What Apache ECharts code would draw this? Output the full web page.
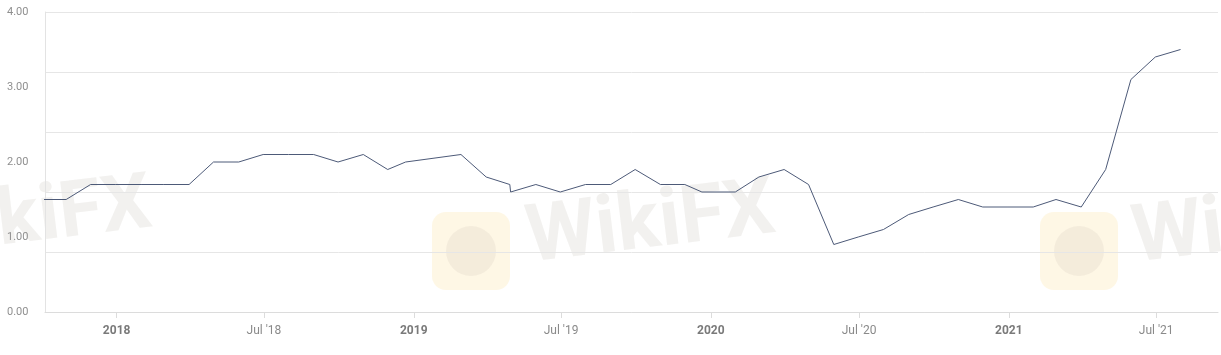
<!DOCTYPE html>
<html>
<head>
<meta charset="utf-8">
<script src="https://cdn.jsdelivr.net/npm/echarts@6/dist/echarts.min.js"></script>
<style>
html,body{margin:0;padding:0;background:#fff;}
#c{width:1221px;height:355px;}
</style>
</head>
<body>
<div id="c"></div>
<script>
// ---- data ----
var dates = [
  '2017-09-30','2017-10-31','2017-11-30','2017-12-31','2018-01-31','2018-02-28',
  '2018-03-31','2018-04-30','2018-05-31','2018-06-30','2018-07-31','2018-08-31',
  '2018-09-30','2018-10-31','2018-11-30','2018-12-22','2019-02-28','2019-03-31',
  '2019-04-29','2019-04-30','2019-05-31','2019-06-30','2019-07-31','2019-08-31',
  '2019-09-30','2019-10-31','2019-11-30','2019-12-21','2020-01-31','2020-02-29',
  '2020-03-31','2020-04-30','2020-05-31','2020-06-30','2020-07-31','2020-08-31',
  '2020-09-30','2020-10-31','2020-11-30','2020-12-31','2021-01-31','2021-02-28',
  '2021-03-31','2021-04-30','2021-05-31','2021-06-30','2021-07-31'
];
var values = [
  1.50, 1.50, 1.70, 1.70, 1.70, 1.70,
  1.70, 2.00, 2.00, 2.10, 2.10, 2.10,
  2.00, 2.10, 1.90, 2.00, 2.10, 1.80,
  1.70, 1.60, 1.70, 1.60, 1.70, 1.70,
  1.90, 1.70, 1.70, 1.60, 1.60, 1.80,
  1.90, 1.70, 0.90, 1.00, 1.10, 1.30,
  1.40, 1.50, 1.40, 1.40, 1.40, 1.50,
  1.40, 1.90, 3.10, 3.40, 3.50
];
var xTickDates = ['2018-01-01','2018-07-01','2019-01-01','2019-07-01','2020-01-01','2020-07-01','2021-01-01','2021-07-01'];
var yLabelValues = [0, 1, 2, 3, 4];
var xMin = '2017-10-05', xMax = '2021-09-15';

// ---- chart ----
function ts(d) { return Date.UTC(+d.slice(0, 4), +d.slice(5, 7) - 1, +d.slice(8, 10)); }
var chart = echarts.init(document.getElementById('c'), null, {renderer: 'canvas'});
var tickTs = xTickDates.map(ts);
var seriesData = dates.map(function (d, i) { return [ts(d), values[i]]; });

var wmFill = 'rgba(205,198,190,0.25)';
var option = {
  backgroundColor: '#ffffff',
  animation: false,
  textStyle: {fontFamily: 'Roboto, "Noto Sans", sans-serif'},
  grid: {left: 45, right: 3, top: 12, bottom: 43, containLabel: false},
  xAxis: {
    type: 'value',
    min: ts(xMin),
    max: ts(xMax),
    axisLine: {show: true, lineStyle: {color: '#dcdcdc', width: 1}},
    axisTick: {show: true, customValues: tickTs, length: 6, lineStyle: {color: '#dcdcdc'}},
    splitLine: {show: false},
    axisLabel: {
      customValues: tickTs,
      margin: 13,
      fontSize: 12,
      color: '#8a8a8a',
      formatter: function (v) {
        var d = new Date(v);
        var y = d.getUTCFullYear();
        if (d.getUTCMonth() === 0) return '{b|' + y + '}';
        return "Jul '" + String(y).slice(2);
      },
      rich: {b: {fontWeight: 'bold', fontSize: 12, color: '#7a7a7a'}}
    }
  },
  yAxis: [
    {
      type: 'value', min: 0, max: 4, interval: 0.8,
      position: 'left',
      axisLine: {show: true, lineStyle: {color: '#e3e3e3'}},
      axisTick: {show: false},
      axisLabel: {show: false},
      splitLine: {show: true, lineStyle: {color: '#e6e6e6', width: 1}}
    },
    {
      type: 'value', min: 0, max: 4, interval: 1,
      position: 'left',
      axisLine: {show: false},
      axisTick: {show: false},
      splitLine: {show: false},
      axisLabel: {
        customValues: yLabelValues,
        align: 'left', margin: 38, fontSize: 11, color: '#8f8f8f',
        formatter: function (v) { return v.toFixed(2); }
      }
    }
  ],
  graphic: [
    {type: 'text', left: -95, top: 168, rotation: 0.12, silent: true, z: -1,
     style: {text: 'WikiFX', font: 'bold 78px Roboto, sans-serif', fill: wmFill}},
    {type: 'rect', left: 432, top: 212, silent: true, z: -1,
     shape: {width: 78, height: 78, r: 14}, style: {fill: 'rgba(250,225,150,0.25)'}},
    {type: 'circle', left: 446, top: 226, silent: true, z: -1,
     shape: {r: 25}, style: {fill: 'rgba(200,190,180,0.18)'}},
    {type: 'text', left: 522, top: 172, rotation: 0.12, silent: true, z: -1,
     style: {text: 'WikiFX', font: 'bold 80px Roboto, sans-serif', fill: wmFill}},
    {type: 'rect', left: 1040, top: 212, silent: true, z: -1,
     shape: {width: 78, height: 78, r: 14}, style: {fill: 'rgba(250,225,150,0.25)'}},
    {type: 'circle', left: 1054, top: 226, silent: true, z: -1,
     shape: {r: 25}, style: {fill: 'rgba(200,190,180,0.18)'}},
    {type: 'text', left: 1128, top: 172, rotation: 0.12, silent: true, z: -1,
     style: {text: 'WikiFX', font: 'bold 80px Roboto, sans-serif', fill: wmFill}}
  ],
  series: [{
    type: 'line',
    yAxisIndex: 0,
    data: seriesData,
    showSymbol: false,
    symbol: 'none',
    clip: false,
    lineStyle: {color: '#4d5a78', width: 1},
    z: 5
  }]
};
chart.setOption(option);
</script>
</body>
</html>
